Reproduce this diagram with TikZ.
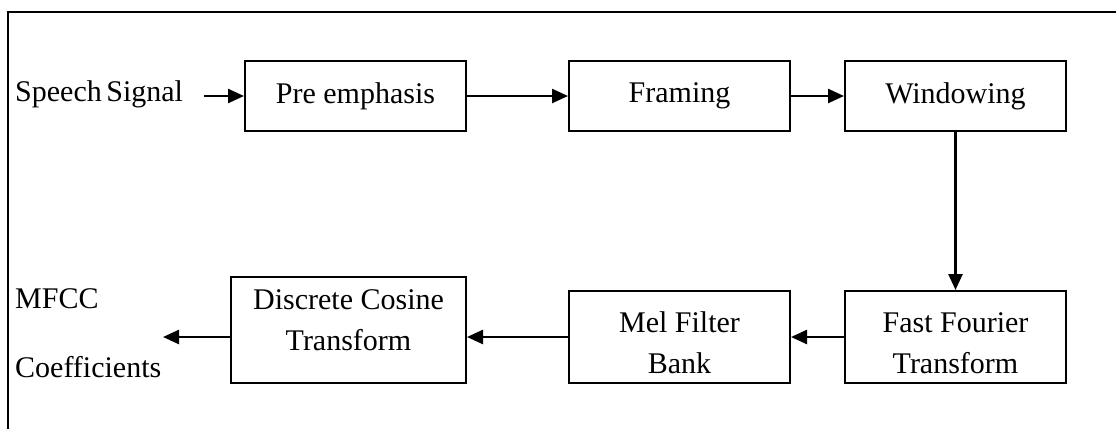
\documentclass[tikz,border=0pt]{standalone}
\usepackage{fontspec}
\setmainfont{Liberation Serif}
\usetikzlibrary{arrows.meta}

\tikzset{
  block/.style={draw, line width=2pt, minimum width=221pt, minimum height=70pt,
    align=center, inner sep=0pt},
  flow/.style={line width=2.5pt, -{Triangle[length=16pt,width=14pt]}}
}

\begin{document}
\begin{tikzpicture}[x=1pt,y=-1pt,font=\fontsize{30}{41}\selectfont]
    \useasboundingbox (0,0) rectangle (1116,429);

    % Marco
    \draw[line width=2.5pt] (8,429) -- (8,12) -- (1116,12);

    % Bloques
    \node[block] (pre) at (355.5,96) {Pre emphasis};
    \node[block] (framing) at (679.5,96) {Framing};
    \node[block] (window) at (955.5,96) {Windowing};
    \node[block, minimum height=92pt, text height=72pt, text depth=0pt] (fft) at (955.5,337) {Fast Fourier\\Transform};
    \node[block, minimum height=92pt, text height=72pt, text depth=0pt] (mel) at (679.5,337) {Mel Filter\\Bank};
    \node[block, minimum width=235pt, minimum height=106pt, text height=40pt, text depth=0pt] (dct) at (348.5,330) {Discrete Cosine\\Transform};

    % Etiquetas
    \node[anchor=base west, inner sep=0pt] (speech) at (15,101) {Speech\kern-3pt\ Signal};
    \node[anchor=base west, inner sep=0pt] (mfcc) at (15,308) {MFCC};
    \node[anchor=base west, inner sep=0pt] (coef) at (15,377) {Coefficients};
    \coordinate (sin) at (204,96);
    \coordinate (out) at (163,337);

    % Flechas
    \draw[flow] (sin) -- (pre.west);
    \draw[flow] (pre) -- (framing);
    \draw[flow] (framing) -- (window);
    \draw[flow] (window) -- (fft);
    \draw[flow] (fft) -- (mel);
    \draw[flow] (mel.west) -- (mel.west -| dct.east);
    \draw[flow] (dct.west |- out) -- (out);
\end{tikzpicture}
\end{document}
